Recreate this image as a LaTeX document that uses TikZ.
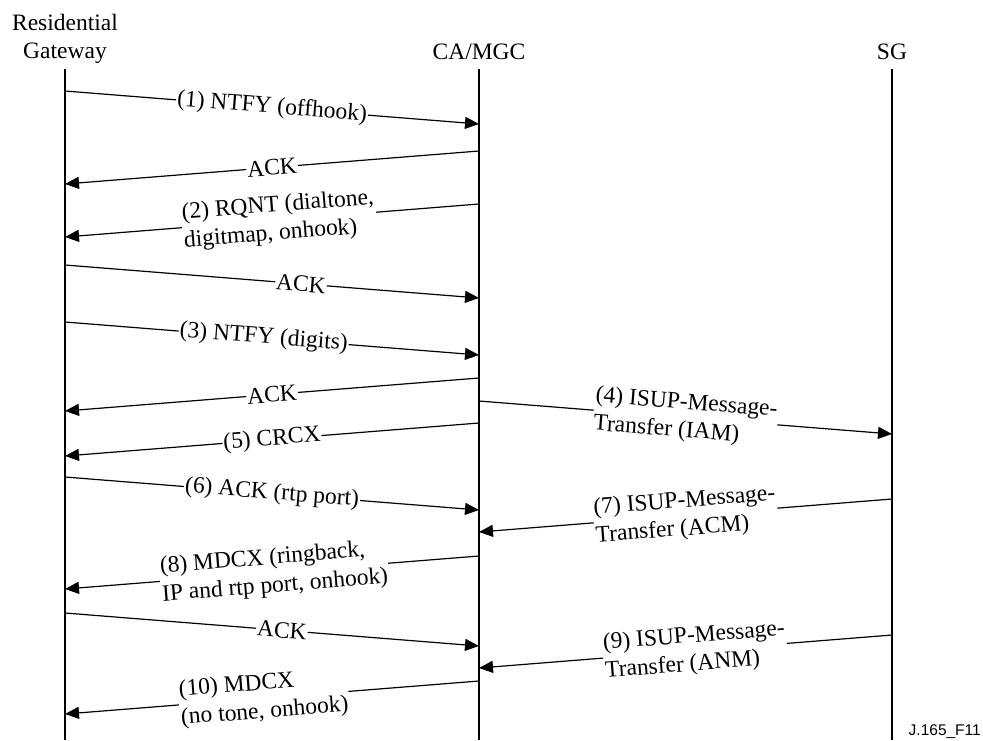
\documentclass[tikz,border=0pt]{standalone}
\usepackage{fontspec}
\setmainfont{Liberation Serif}
\newfontfamily\figfont{Liberation Sans}
\usetikzlibrary{arrows.meta}
\usetikzlibrary{calc}

\begin{document}
\begin{tikzpicture}[x=1pt, y=-1pt,
        every node/.style={font=\fontsize{23.5}{28.2}\selectfont},
        life/.style={line width=2.3pt},
        msg/.style={line width=1.2pt, -{Triangle[length=14pt, width=12pt]}},
        lbl/.style={sloped, fill=white, inner sep=1pt, align=left}]
        \useasboundingbox (0,0) rectangle (983,740);

        \node[align=center, inner sep=0pt, anchor=south] (rg) at (65,64) {Residential\\Gateway};
        \node[inner sep=0pt, anchor=base] (ca) at (479,59) {CA/MGC};
        \node[inner sep=0pt, anchor=base] (sg) at (892,59) {SG};
        \node[font=\figfont\fontsize{15.5}{18}\selectfont, inner sep=0pt, anchor=base east] (fig) at (981,735) {J.165\_F11};

        \coordinate (rgtop) at (65,69);  \coordinate (rgbot) at (65,740);
        \coordinate (catop) at (479,69); \coordinate (cabot) at (479,740);
        \coordinate (sgtop) at (892,69); \coordinate (sgbot) at (892,740);
        \draw[life] (rgtop) -- (rgbot);
        \draw[life] (catop) -- (cabot);
        \draw[life] (sgtop) -- (sgbot);

        % message end points on the lifelines
        \coordinate (m1a) at (65,91);   \coordinate (m1b) at (479,124);
        \coordinate (m2a) at (479,151); \coordinate (m2b) at (65,184);
        \coordinate (m3a) at (479,204); \coordinate (m3b) at (65,237);
        \coordinate (m4a) at (65,265);  \coordinate (m4b) at (479,298);
        \coordinate (m5a) at (65,322);  \coordinate (m5b) at (479,355);
        \coordinate (m6a) at (479,378); \coordinate (m6b) at (65,411);
        \coordinate (m7a) at (479,401); \coordinate (m7b) at (892,434);
        \coordinate (m8a) at (479,423); \coordinate (m8b) at (65,456);
        \coordinate (m9a) at (65,477);  \coordinate (m9b) at (479,510);
        \coordinate (m10a) at (892,499); \coordinate (m10b) at (479,532);
        \coordinate (m11a) at (479,556); \coordinate (m11b) at (65,589);
        \coordinate (m12a) at (65,613);  \coordinate (m12b) at (479,646);
        \coordinate (m13a) at (892,635); \coordinate (m13b) at (479,668);
        \coordinate (m14a) at (479,681); \coordinate (m14b) at (65,714);

        \draw[msg] (m1a) -- node[lbl] {(1) NTFY (offhook)} (m1b);
        \draw[msg] (m2a) -- node[lbl] {ACK} (m2b);
        \draw[msg] (m3a) -- node[lbl, pos=0.483] {(2) RQNT (dialtone,\\digitmap, onhook)} (m3b);
        \draw[msg] (m4a) -- node[lbl, pos=0.57] {ACK} (m4b);
        \draw[msg] (m5a) -- node[lbl, pos=0.48] {(3) NTFY (digits)} (m5b);
        \draw[msg] (m6a) -- node[lbl] {ACK} (m6b);
        \draw[msg] (m7a) -- node[lbl] {(4) ISUP-Message-\\Transfer (IAM)} (m7b);
        \draw[msg] (m8a) -- node[lbl] {(5) CRCX} (m8b);
        \draw[msg] (m9a) -- node[lbl] {(6) ACK (rtp port)} (m9b);
        \draw[msg] (m10a) -- node[lbl] {(7) ISUP-Message-\\Transfer (ACM)} (m10b);
        \draw[msg] (m11a) -- node[lbl, pos=0.495] {(8) MDCX (ringback,\\IP and rtp port, onhook)} (m11b);
        \draw[msg] (m12a) -- node[lbl, pos=0.524] {ACK} (m12b);
        \draw[msg] (m13a) -- node[lbl, pos=0.477] {(9) ISUP-Message-\\Transfer (ANM)} (m13b);
        \draw[msg] (m14a) -- node[lbl, pos=0.52] {(10) MDCX\\(no tone, onhook)} (m14b);
\end{tikzpicture}
\end{document}
